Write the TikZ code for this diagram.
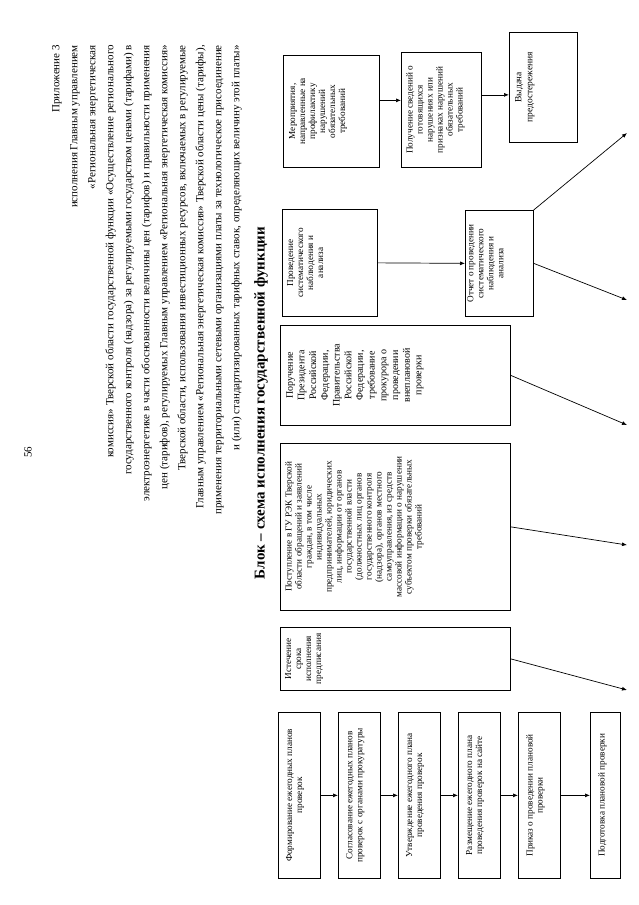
\documentclass[tikz,border=0pt]{standalone}
\usepackage{fontspec}
\setmainfont{Liberation Serif}
\usetikzlibrary{arrows.meta}
\begin{document}
\begin{tikzpicture}[x=1pt,y=-1pt,
  bx/.style={draw,line width=0.7pt,anchor=north west,inner sep=0pt},
  tx/.style={rotate=90,anchor=north,align=center,inner sep=0pt,font=\fontsize{9.2}{10}\selectfont},
  arr/.style={-{Latex[length=5pt,width=4pt]},line width=0.7pt}]
\useasboundingbox (0,0) rectangle (639,905);
% header
\node[rotate=90,anchor=north east,align=right,inner sep=0pt,font=\fontsize{11}{18}\selectfont] (head) at (52,45)
{Приложение 3\\
исполнения Главным управлением\\
«Региональная энергетическая\\
комиссия» Тверской области государственной функции «Осуществление регионального\\
государственного контроля (надзора) за регулируемыми государством ценами (тарифами) в\\
электроэнергетике в части обоснованности величины цен (тарифов) и правильности применения\\
цен (тарифов), регулируемых Главным управлением «Региональная энергетическая комиссия»\\
Тверской области, использования инвестиционных ресурсов, включаемых в регулируемые\\
Главным управлением «Региональная энергетическая комиссия» Тверской области цены (тарифы),\\
применения территориальными сетевыми организациями платы за технологическое присоединение\\
и (или) стандартизированных тарифных ставок, определяющих величину этой платы»};
\node[rotate=90,font=\fontsize{11}{13}\selectfont] (pnum) at (28,452) {56};
\node[rotate=90,font=\bfseries\fontsize{15}{17}\selectfont] (title) at (261,403) {Блок – схема исполнения государственной функции};
% top column
\node[bx,minimum width=96pt,minimum height=112pt] (mer) at (283,55) {};
\node[tx] (tmer) at ([xshift=6pt]mer.west) {Мероприятия,\\направленные на\\профилактику\\нарушений\\обязательных\\требований};
\node[bx,minimum width=80pt,minimum height=115pt] (pol) at (401,52) {};
\node[tx] (tpol) at ([xshift=5pt]pol.west) {Получение сведений о\\готовящихся\\нарушениях или\\признаках нарушений\\обязательных\\требований};
\node[bx,minimum width=68pt,minimum height=110pt] (vyd) at (509,32) {};
\node[tx,font=\fontsize{9.5}{11}\selectfont] (tvyd) at ([xshift=6pt]vyd.west) {Выдача\\предостережения};
\draw[arr] ([yshift=11pt]mer.east) -- ([yshift=11pt]mer.east -| pol.west);
\draw[arr] ([yshift=15pt]pol.east) -- ([yshift=15pt]pol.east -| vyd.west);
% second
\node[bx,minimum width=95pt,minimum height=107pt] (sist) at (282,209) {};
\node[tx] (tsist) at ([xshift=5pt]sist.west) {Проведение\\систематического\\наблюдения и\\анализа};
\node[bx,minimum width=68pt,minimum height=106pt] (otch) at (465,210) {};
\node[tx] (totch) at ([xshift=2pt]otch.west) {Отчет о проведении\\систематического\\наблюдения и\\анализа};
\draw[arr] (sist.east) -- (otch.west);
% third
\node[bx,minimum width=230pt,minimum height=100pt] (por) at (280,325) {};
\node[tx,font=\fontsize{10}{11.7}\selectfont] (tpor) at ([xshift=6pt]por.west) {Поручение\\Президента\\Российской\\Федерации,\\Правительства\\Российской\\Федерации,\\требование\\прокурора о\\проведении\\внеплановой\\проверки};
% fourth
\node[bx,minimum width=230pt,minimum height=167pt] (post) at (280,443) {};
\node[tx] (tpost) at ([xshift=5pt]post.west) {Поступление в ГУ РЭК Тверской\\области обращений и заявлений\\граждан, в том числе\\индивидуальных\\предпринимателей, юридических\\лиц, информации от органов\\государственной власти\\(должностных лиц органов\\государственного контроля\\(надзора), органов местного\\самоуправления, из средств\\массовой информации о нарушении\\субъектом проверки обязательных\\требований};
% fifth
\node[bx,minimum width=230pt,minimum height=63pt] (ist) at (280,627) {};
\node[tx] (tist) at ([xshift=5pt]ist.west) {Истечение\\срока\\исполнения\\предписания};
% left column
\node[bx,minimum width=42pt,minimum height=166pt] (f1) at (278,712) {};
\node[tx] (tf1) at ([xshift=8pt]f1.west) {Формирование ежегодных планов\\проверок};
\node[bx,minimum width=42pt,minimum height=166pt] (f2) at (338,712) {};
\node[tx] (tf2) at ([xshift=8pt]f2.west) {Согласование ежегодных планов\\проверок с органами прокуратуры};
\node[bx,minimum width=42pt,minimum height=166pt] (f3) at (398,712) {};
\node[tx] (tf3) at ([xshift=8pt]f3.west) {Утверждение ежегодного плана\\проведения проверок};
\node[bx,minimum width=42pt,minimum height=166pt] (f4) at (458,712) {};
\node[tx] (tf4) at ([xshift=8pt]f4.west) {Размещение ежегодного плана\\проведения проверок на сайте};
\node[bx,minimum width=42pt,minimum height=166pt] (f5) at (518,712) {};
\node[tx] (tf5) at ([xshift=8pt]f5.west) {Приказ о проведении плановой\\проверки};
\node[bx,minimum width=30pt,minimum height=166pt] (f6) at (590,712) {};
\node[tx] (tf6) at ([xshift=8pt]f6.west) {Подготовка плановой проверки};
\draw[arr] (f1.east) -- (f2.west);
\draw[arr] (f2.east) -- (f3.west);
\draw[arr] (f3.east) -- (f4.west);
\draw[arr] (f4.east) -- (f5.west);
\draw[arr] (f5.east) -- (f6.west);
% diagonal arrows
\coordinate (e1) at (627,133);
\coordinate (e2) at (627,300);
\coordinate (e3) at (627,425);
\coordinate (e4) at (627,545);
\coordinate (e5) at (627,690);
\draw[arr] (otch.north east) -- (e1);
\draw[arr] (otch.east) -- (e2);
\draw[arr] (por.east) -- (e3);
\draw[arr] (post.east) -- (e4);
\draw[arr] (ist.east) -- (e5);
\end{tikzpicture}
\end{document}
